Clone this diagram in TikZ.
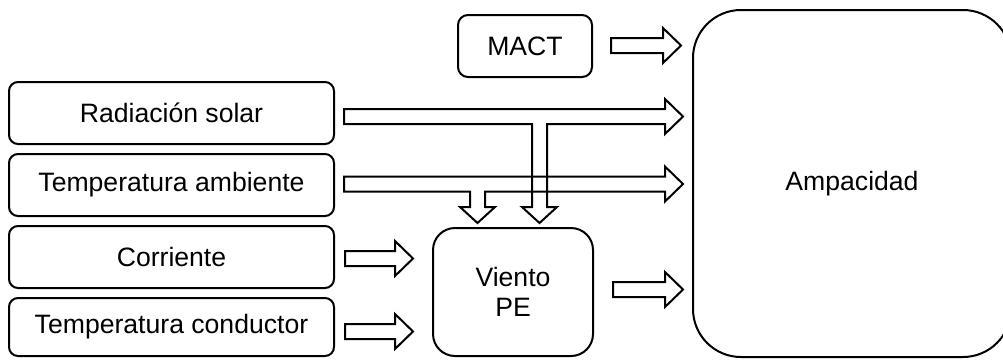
\documentclass[tikz,border=0pt]{standalone}
\usepackage{fontspec}
\setmainfont{Liberation Sans}
\usetikzlibrary{calc}
\tikzset{
  box/.style={draw, line width=2pt, inner sep=0pt, align=center,
    font=\fontsize{26.6}{29.5}\selectfont},
  blockarrow/.style={draw, line width=2pt, line join=miter, fill=none}
}
\newcommand\hblock[2]{\draw[blockarrow] let \p1=(#1), \p2=(#2) in
  (\x1,\y1+7.5pt) -- (\x2-18pt,\y1+7.5pt) -- (\x2-18pt,\y1+17.5pt) -- (\x2,\y1)
  -- (\x2-18pt,\y1-17.5pt) -- (\x2-18pt,\y1-7.5pt) -- (\x1,\y1-7.5pt) -- cycle;}
\newcommand\tblock[3]{\draw[blockarrow] let \p1=(#1), \p2=(#2), \p3=(#3) in
  (\x1,\y1+7.5pt) -- (\x2-18pt,\y1+7.5pt) -- (\x2-18pt,\y1+17.5pt) -- (\x2,\y1)
  -- (\x2-18pt,\y1-17.5pt) -- (\x2-18pt,\y1-7.5pt) -- (\x3+7.5pt,\y1-7.5pt)
  -- (\x3+7.5pt,\y3+16pt) -- (\x3+17.5pt,\y3+16pt) -- (\x3,\y3)
  -- (\x3-17.5pt,\y3+16pt) -- (\x3-7.5pt,\y3+16pt) -- (\x3-7.5pt,\y1-7.5pt)
  -- (\x1,\y1-7.5pt) -- cycle;}
\begin{document}
\begin{tikzpicture}[x=1pt,y=-1pt]
\useasboundingbox (0,0) rectangle (1003,359);
\clip (0,0) rectangle (1003,359);
% boxes
\node[box, rounded corners=9pt, minimum width=325pt, minimum height=62pt] (rad) at (171.5,113) {Radiación solar};
\node[box, rounded corners=9pt, minimum width=325pt, minimum height=62pt] (tamb) at (171.5,185) {Temperatura ambiente};
\node[box, rounded corners=9pt, minimum width=325pt, minimum height=62pt] (corr) at (171.5,257) {Corriente};
\node[box, rounded corners=9pt, minimum width=325pt, minimum height=58pt] (tcond) at (171.5,327) {Temperatura conductor};
\node[box, rounded corners=10pt, minimum width=134pt, minimum height=62pt] (mact) at (525,46) {MACT};
\node[box, rounded corners=22pt, minimum width=160pt, minimum height=128pt] (viento) at (513,292) {Viento\\PE};
\node[box, rounded corners=48pt, minimum width=318pt, minimum height=347pt] (amp) at (852,183.5) {Ampacidad};
% connector end points
\coordinate (ms) at (611,45.5);   \coordinate (me) at (681,45.5);
\coordinate (rs) at (344,116.5);  \coordinate (re) at (683,116.5);  \coordinate (rb) at (539.5,223);
\coordinate (ts) at (344,184);    \coordinate (te) at (683,184);    \coordinate (tb) at (477.5,223);
\coordinate (cs) at (345,258.5);  \coordinate (ce) at (413,258.5);
\coordinate (ks) at (345,331.5);  \coordinate (ke) at (413,331.5);
\coordinate (vs) at (613,289.5);  \coordinate (ve) at (683,289.5);
% connectors
\hblock{ms}{me}
\tblock{rs}{re}{rb}
\tblock{ts}{te}{tb}
\hblock{cs}{ce}
\hblock{ks}{ke}
\hblock{vs}{ve}
\end{tikzpicture}
\end{document}
